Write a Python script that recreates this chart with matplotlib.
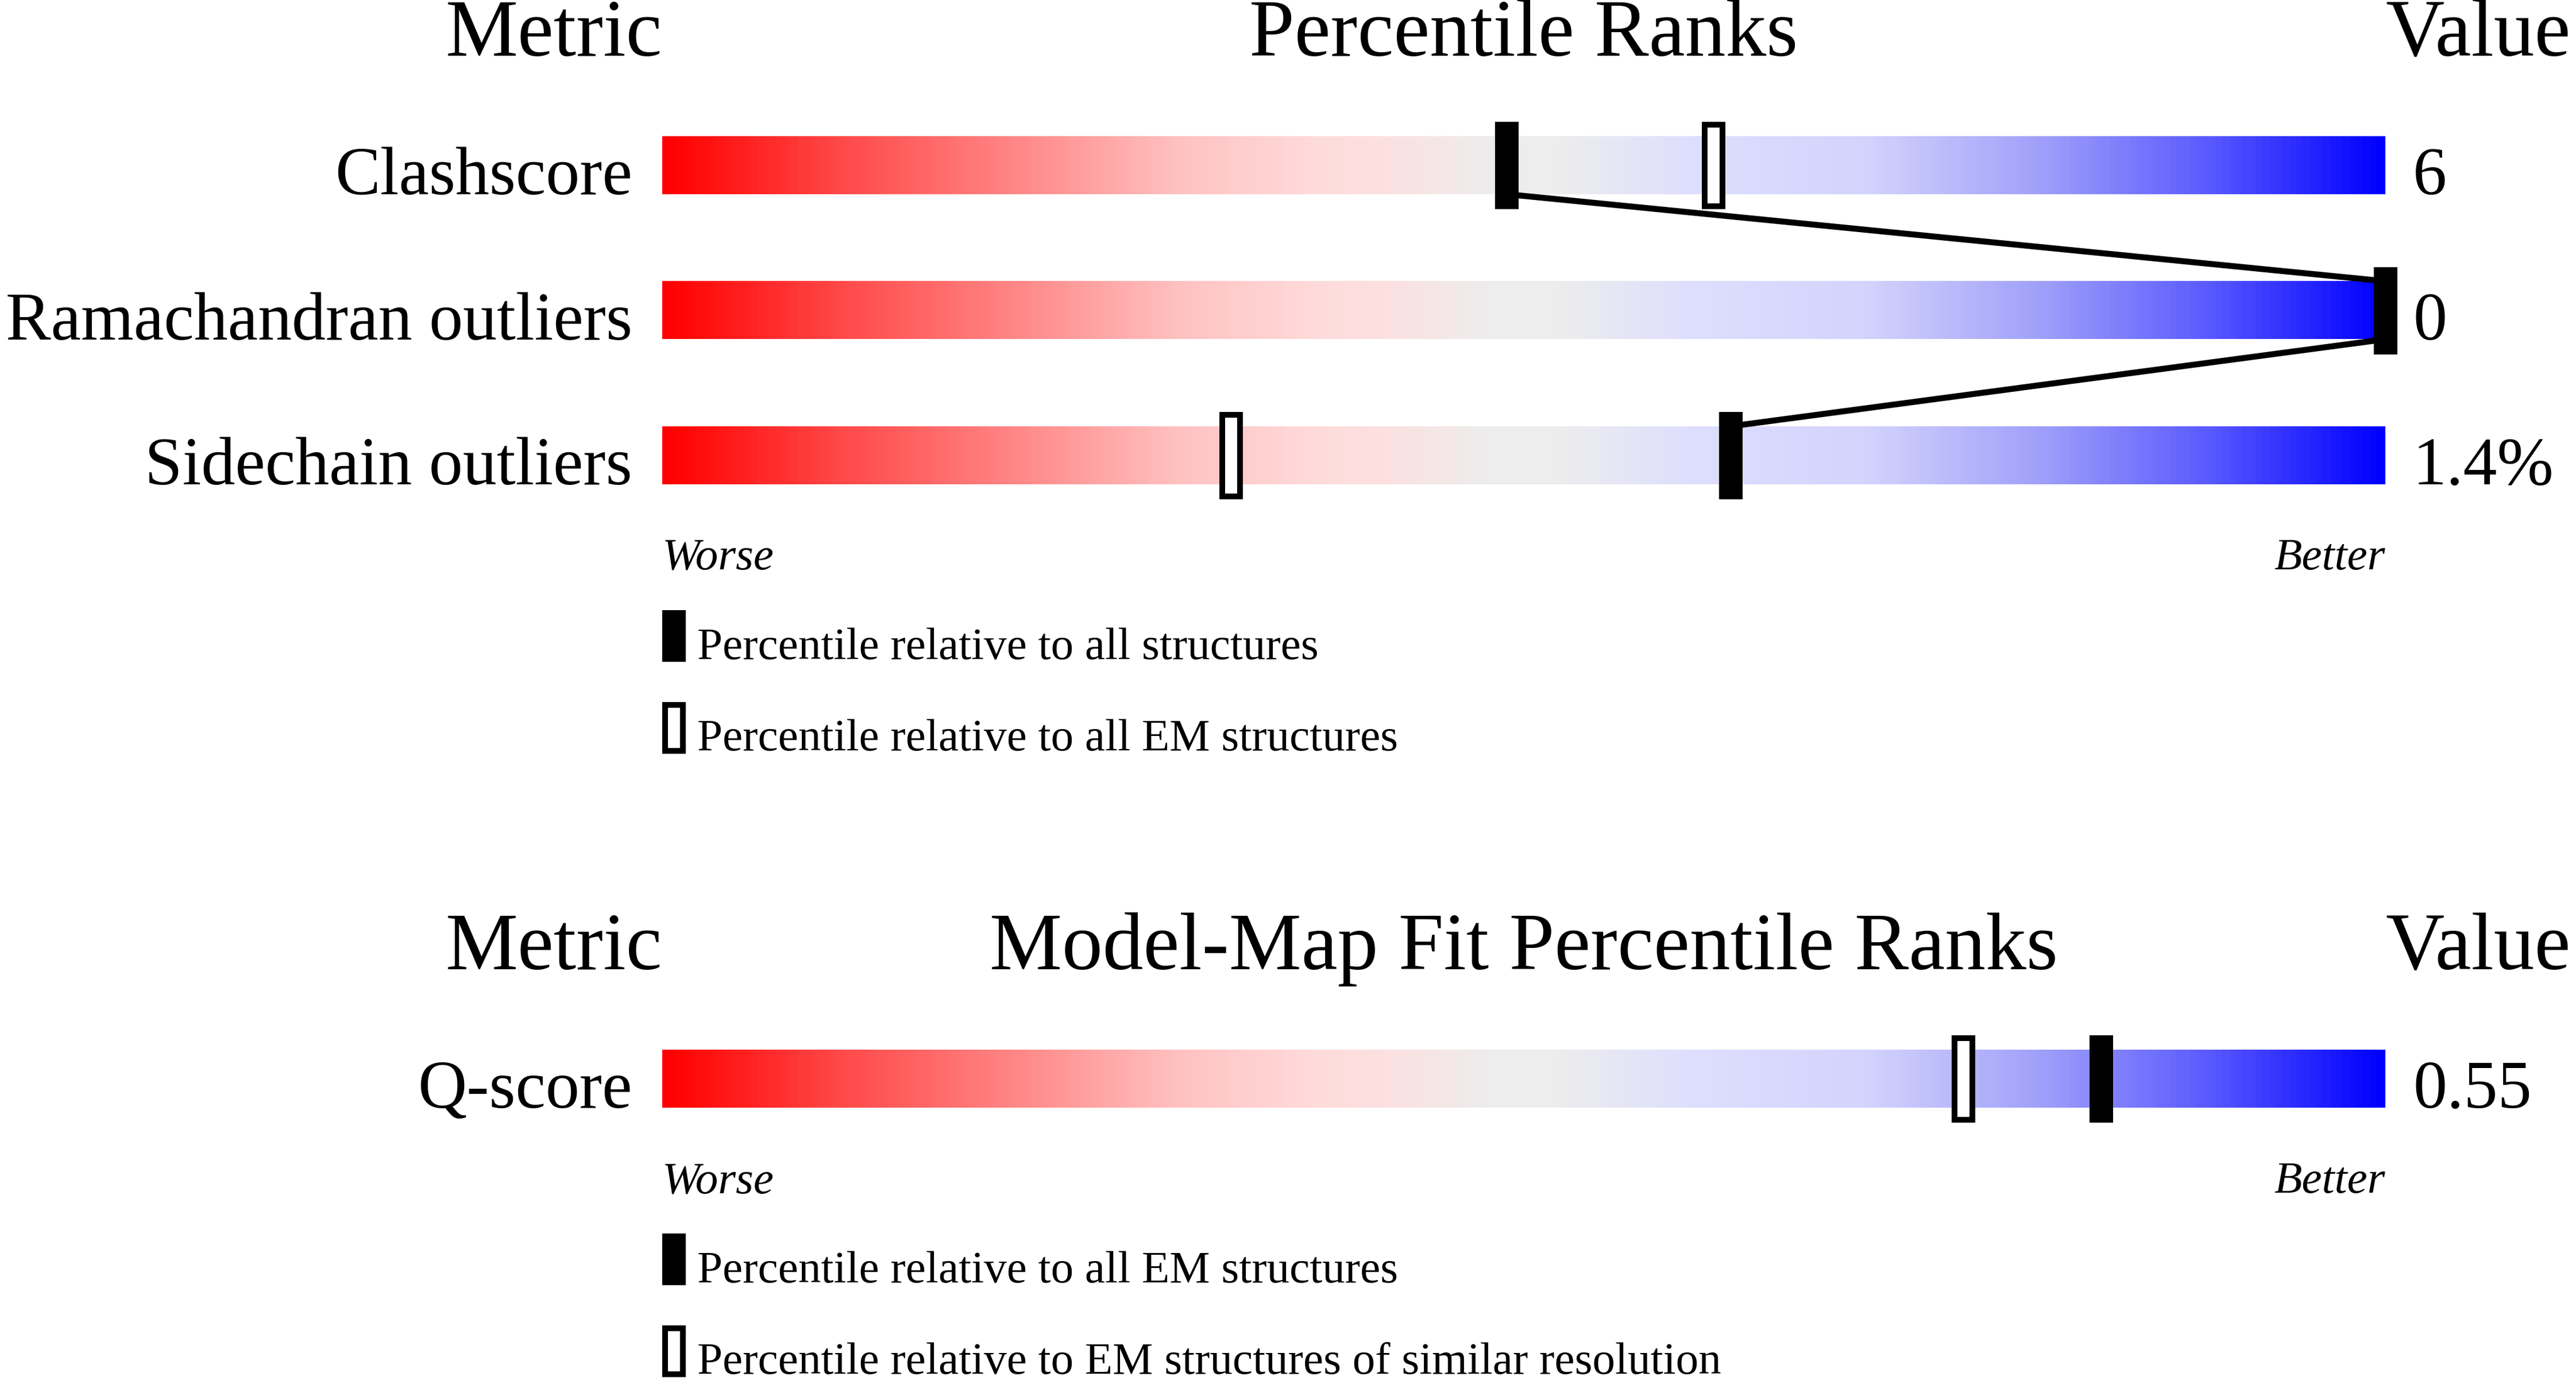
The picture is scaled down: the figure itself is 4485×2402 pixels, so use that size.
import matplotlib
matplotlib.use("Agg")
import matplotlib.pyplot as plt
import numpy as np
from matplotlib.colors import LinearSegmentedColormap
from matplotlib.patches import Rectangle

# geometry panel
metrics = ["Clashscore", "Ramachandran outliers", "Sidechain outliers"]
values = ["6", "0", "1.4%"]
pct_all = [49, 100, 62]      # black markers
pct_em = [61, 100, 33]       # hollow markers
legend_geo = ["Percentile relative to all structures",
              "Percentile relative to all EM structures"]

# model-map fit panel
fit_metrics = ["Q-score"]
fit_values = ["0.55"]
fit_pct_em = [83.5]          # black
fit_pct_res = [75.5]         # hollow
legend_fit = ["Percentile relative to all EM structures",
              "Percentile relative to EM structures of similar resolution"]

plt.rcParams['font.family'] = ['Liberation Serif', 'DejaVu Serif']

W, H = 4485, 2402
X0, BW = 1153, 3000
PX = 100 / BW   # percent units per pixel

cmap = LinearSegmentedColormap.from_list("rank", [
    (0.00, (1.00, 0.00, 0.00)),
    (0.10, (1.00, 0.28, 0.28)),
    (0.20, (1.00, 0.52, 0.52)),
    (0.30, (1.00, 0.76, 0.76)),
    (0.38, (1.00, 0.86, 0.86)),
    (0.42, (0.99, 0.88, 0.88)),
    (0.48, (0.93, 0.93, 0.93)),
    (0.52, (0.93, 0.93, 0.93)),
    (0.60, (0.87, 0.87, 1.00)),
    (0.70, (0.83, 0.83, 0.99)),
    (0.80, (0.63, 0.63, 0.98)),
    (0.90, (0.35, 0.35, 1.00)),
    (1.00, (0.00, 0.00, 1.00)),
])
grad = np.linspace(0, 1, 600).reshape(1, -1)

fig = plt.figure(figsize=(W / 100, H / 100), dpi=100)
ax = fig.add_axes([X0 / W, 0, BW / W, 1])
ax.set_xlim(0, 100)
ax.set_ylim(H, 0)
ax.axis("off")

BAR_H = 101
MW = 41       # marker width px
LW = 10       # hollow border px


def marker(x, ytop, filled, mh=152, left=False):
    w = MW * PX
    if left:
        x = w / 2
    if filled:
        ax.add_patch(Rectangle((x - w / 2, ytop), w, mh, fc="black",
                               ec="none", zorder=4, clip_on=False))
    else:
        iw = (MW - LW) * PX
        ax.add_patch(Rectangle((x - iw / 2, ytop + LW / 2), iw, mh - LW,
                               fc="white", ec="black", lw=LW * 0.72,
                               zorder=3, clip_on=False))


def panel(top, title, names, vals, black, hollow, legend):
    ax.text(0, top + 97, "Metric", ha="right", va="baseline", fontsize=102)
    ax.text(50, top + 97, title, ha="center", va="baseline", fontsize=102)
    ax.text(100, top + 97, "Value", ha="left", va="baseline", fontsize=102)
    tops = [top + 237 + i * 252.5 for i in range(len(names))]
    for i, name in enumerate(names):
        y0 = tops[i]
        ax.imshow(grad, cmap=cmap, aspect="auto",
                  extent=(0, 100, y0 + BAR_H, y0), zorder=1)
        ax.text(-1.73, y0 + BAR_H, name, ha="right", va="baseline", fontsize=85)
        ax.text(101.6, y0 + BAR_H, vals[i], ha="left", va="baseline", fontsize=85)
        marker(hollow[i], y0 - 25, False)
        marker(black[i], y0 - 25, True)
        if i + 1 < len(names):
            ax.plot([black[i], black[i + 1]], [y0 + BAR_H, tops[i + 1]],
                    color="black", lw=7.5, zorder=2, solid_capstyle="butt")
    bot = tops[-1] + BAR_H
    ax.text(0, bot + 148, "Worse", ha="left", va="baseline",
            fontsize=57, style="italic")
    ax.text(100, bot + 148, "Better", ha="right", va="baseline",
            fontsize=57, style="italic")
    marker(0, bot + 219, True, mh=90, left=True)
    ax.text(2.03, bot + 304, legend[0], ha="left", va="baseline", fontsize=57)
    marker(0, bot + 379, False, mh=90, left=True)
    ax.text(2.03, bot + 463, legend[1], ha="left", va="baseline", fontsize=57)


panel(0, "Percentile Ranks", metrics, values, pct_all, pct_em, legend_geo)
panel(1590, "Model-Map Fit Percentile Ranks", fit_metrics, fit_values,
      fit_pct_em, fit_pct_res, legend_fit)

fig.savefig("out.png", dpi=100)
